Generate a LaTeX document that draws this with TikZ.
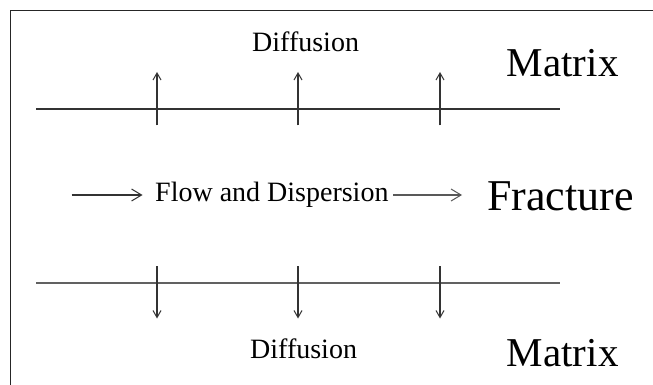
\documentclass[tikz,border=0pt]{standalone}
\usepackage{fontspec}
\setmainfont{Liberation Serif}
\usetikzlibrary{arrows.meta}
\begin{document}
\begin{tikzpicture}[x=1pt,y=-1pt,
  lbl/.style={inner sep=0pt,anchor=base west,text=black},
  small/.style={lbl,font=\fontsize{28}{30}\selectfont},
  big/.style={lbl,font=\fontsize{41}{44}\selectfont},
  layer/.style={line width=2.2pt,draw=black!80},
  vflux/.style={line width=1.1pt,draw=black!80,-{Straight Barb[length=7pt,width=8pt,line width=1pt]}},
  hflow/.style={line width=1.1pt,draw=black!80,-{Straight Barb[length=10pt,width=12pt,line width=1pt]}},
  frame/.style={line width=1.5pt,draw=black!85}]
\useasboundingbox (0,0) rectangle (653,385);
% frame
\coordinate (f1) at (10.5,385);
\coordinate (f2) at (10.5,10.5);
\coordinate (f3) at (653,10.5);
\draw[frame] (f1) -- (f2) -- (f3);
% labels
\node[small] (dtop) at (252,52) {Diffusion};
\node[small] (dbot) at (250,358) {Diffusion};
\node[big] (mtop) at (506.7,76.7) {Matrix};
\node[big] (mbot) at (506.7,366) {Matrix};
\node[lbl,font=\fontsize{44}{46}\selectfont] (frac) at (487,210) {Fracture};
\node[small] (flow) at (155,201) {Flow and Dispersion};
% layer lines
\coordinate (t1) at (36,108.7); \coordinate (t2) at (560,108.7);
\coordinate (b1) at (36,282.7); \coordinate (b2) at (560,282.7);
\draw[layer] (t1) -- (t2);
\draw[layer,draw=black!62] (b1) -- (b2);
% vertical arrows
\foreach \x/\n in {157/1,298/2,440/3}{
  \coordinate (us\n) at (\x,125.4);
  \coordinate (ue\n) at (\x,72);
  \draw[vflux] (us\n) -- (ue\n);
  \coordinate (ds\n) at (\x,266.4);
  \coordinate (de\n) at (\x,318.5);
  \draw[vflux] (ds\n) -- (de\n);
}
% flow arrows
\coordinate (h1) at (71.7,195);
\coordinate (h2) at (142.5,195);
\coordinate (h3) at (393,195);
\coordinate (h4) at (462,195);
\draw[hflow] (h1) -- (h2);
\draw[hflow,draw=black!65] (h3) -- (h4);
\end{tikzpicture}
\end{document}
